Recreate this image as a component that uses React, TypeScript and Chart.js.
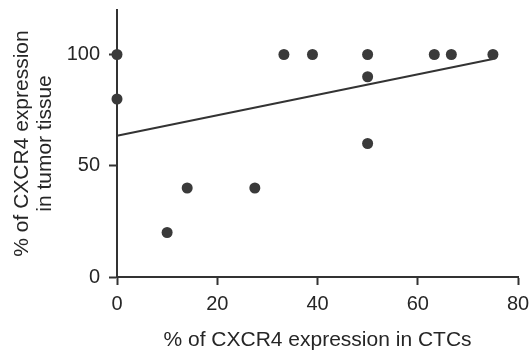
import React, { useEffect, useRef } from "react";
import { Chart, registerables } from "chart.js";

Chart.register(...registerables);

const ctcValues = [0, 0, 10, 14, 27.5, 33.3, 39, 50, 50, 50, 63.3, 66.7, 75];
const tissueValues = [100, 80, 20, 40, 40, 100, 100, 100, 90, 60, 100, 100, 100];
const fitX = [0, 75];
const fitY = [63.5, 98];
const xTicks = [0, 20, 40, 60, 80];
const yTicks = [0, 50, 100];
const xTitle = "% of CXCR4 expression in CTCs";
const yTitle = ["% of CXCR4 expression", "in tumor tissue"];

const INK = "#333333";
const TEXT = "#262626";
const FONT = "'Liberation Sans', Arial, Helvetica, sans-serif";

export default function App() {
  const ref = useRef<HTMLCanvasElement | null>(null);
  useEffect(() => {
    if (!ref.current) return;
    const chart = new Chart(ref.current, {
      type: "scatter",
      data: {
        datasets: [
          {
            type: "scatter",
            data: ctcValues.map((x, i) => ({ x, y: tissueValues[i] })),
            backgroundColor: "#3a3a3a",
            borderColor: "#3a3a3a",
            borderWidth: 0,
            pointRadius: 5.5,
            clip: false as any,
          },
          {
            type: "line",
            data: fitX.map((x, i) => ({ x, y: fitY[i] })),
            borderColor: INK,
            borderWidth: 2,
            pointRadius: 0,
            fill: false,
            clip: false as any,
          } as any,
        ],
      },
      options: {
        animation: false,
        responsive: true,
        maintainAspectRatio: false,
        layout: { padding: { top: 10, right: 12, left: 0, bottom: 0 } },
        plugins: { legend: { display: false }, tooltip: { enabled: false } },
        scales: {
          x: {
            type: "linear",
            min: 0,
            max: 80,
            afterBuildTicks: (s: any) => {
              s.ticks = xTicks.map((v) => ({ value: v }));
            },
            afterFit: (s: any) => {
              s.height = 79;
              s.paddingRight = 0;
              s.paddingLeft = 0;
            },
            border: { display: true, color: INK, width: 2 },
            grid: {
              display: true,
              drawOnChartArea: false,
              drawTicks: true,
              tickLength: 8,
              tickWidth: 2,
              tickColor: INK,
            },
            ticks: {
              padding: 7,
              color: TEXT,
              font: { family: FONT, size: 20 },
              maxRotation: 0,
            },
            title: {
              display: true,
              text: xTitle,
              color: TEXT,
              font: { family: FONT, size: 21, lineHeight: 1.1 },
              padding: { top: 0, bottom: 4.5 },
            },
          },
          y: {
            type: "linear",
            min: 0,
            max: 120,
            afterBuildTicks: (s: any) => {
              s.ticks = yTicks.map((v) => ({ value: v }));
            },
            afterFit: (s: any) => {
              s.width = 117;
              s.paddingTop = 0;
              s.paddingBottom = 0;
            },
            border: { display: true, color: INK, width: 2 },
            grid: {
              display: true,
              drawOnChartArea: false,
              drawTicks: true,
              tickLength: 8,
              tickWidth: 2,
              tickColor: INK,
            },
            ticks: {
              padding: 9,
              color: TEXT,
              font: { family: FONT, size: 20 },
            },
            title: {
              display: true,
              text: yTitle,
              color: TEXT,
              font: { family: FONT, size: 21, lineHeight: 1.1 },
              padding: { top: 10.5, bottom: 0 },
            },
          },
        },
      },
    });
    return () => chart.destroy();
  }, []);
  return (
    <div style={{ position: "absolute", left: 0, top: 0, width: 530, height: 356, background: "#fff" }}>
      <canvas ref={ref} />
    </div>
  );
}
